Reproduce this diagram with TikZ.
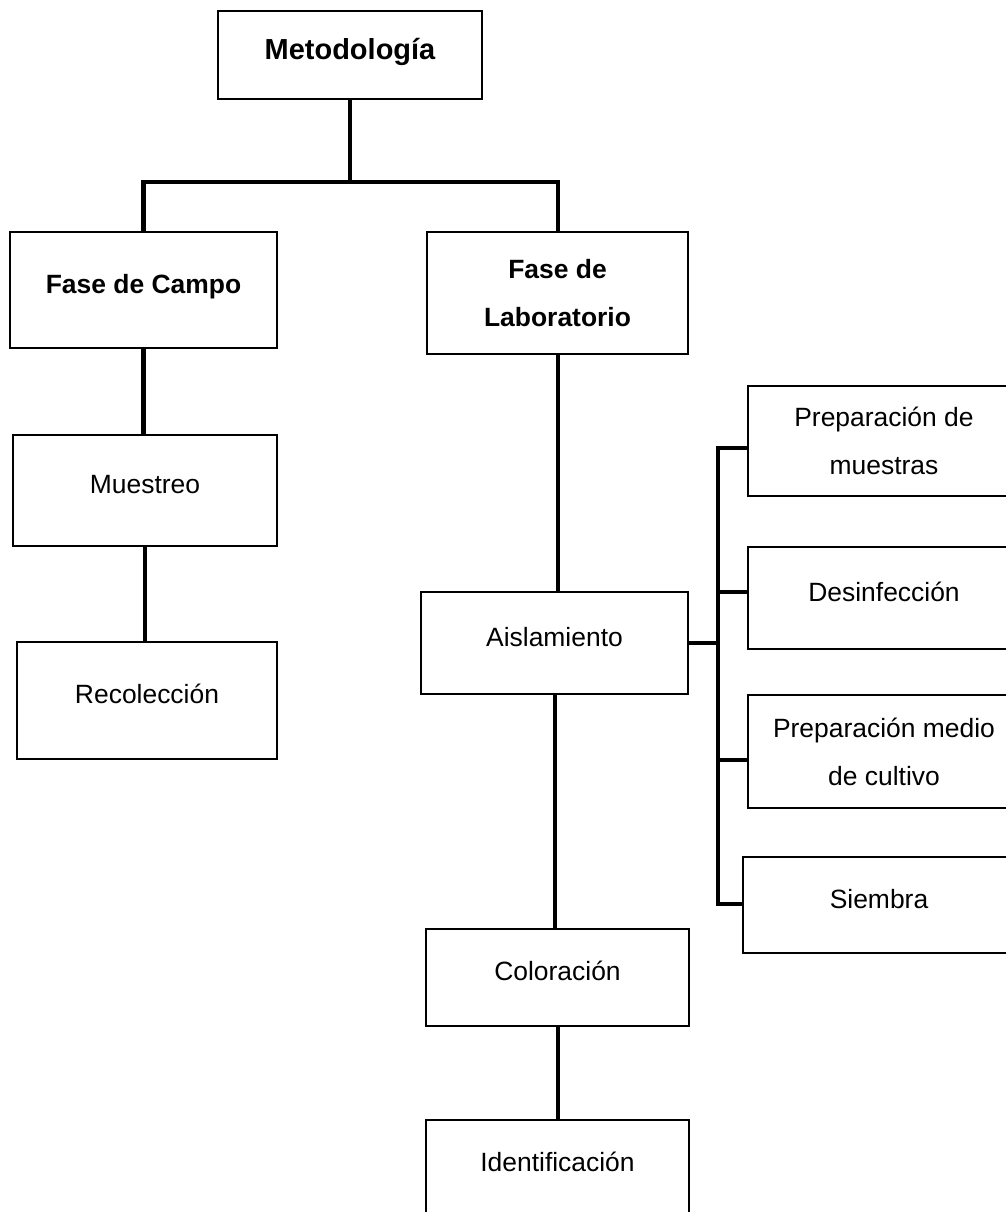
\documentclass[tikz,border=0pt]{standalone}
\usepackage{fontspec}
\setmainfont{Liberation Sans}
\usetikzlibrary{calc}

\begin{document}
\begin{tikzpicture}[x=0.025cm, y=-0.025cm,
    box/.style={draw, line width=1.4pt, inner sep=0pt, align=center, font=\fontsize{18.8pt}{34pt}\selectfont},
    title/.style={box, font=\fontsize{18.8pt}{34pt}\selectfont\bfseries},
    onel/.style={text height=0.5cm, text depth=0.33cm},
    conn/.style={line width=2.85pt, line cap=rect}]

    \useasboundingbox (0,0) rectangle (1006,1212);
    \fill[white] (0,0) rectangle (1006,1212);
    \clip (0,0) rectangle (1006,1212);

    \node[title, font=\fontsize{20.6pt}{34pt}\selectfont\bfseries, text height=0.56cm, text depth=0.33cm,
        minimum width=6.6cm, minimum height=2.2cm] (met) at (350,55) {Metodología};
    \node[title, onel, minimum width=6.675cm, minimum height=2.9cm] (campo) at (143.5,290) {Fase de Campo};
    \node[title, minimum width=6.525cm, minimum height=3.05cm] (lab) at (557.5,293) {Fase de\\Laboratorio};

    \node[box, onel, minimum width=6.6cm, minimum height=2.775cm] (muest) at (145,490.5) {Muestreo};
    \node[box, onel, minimum width=6.5cm, minimum height=2.925cm] (recol) at (147,700.5) {Recolección};

    \node[box, onel, minimum width=6.675cm, minimum height=2.55cm] (aisl) at (554.5,643) {Aislamiento};
    \node[box, onel, minimum width=6.575cm, minimum height=2.425cm] (color) at (557.5,977.5) {Coloración};
    \node[box, onel, minimum width=6.575cm, minimum height=2.425cm] (ident) at (557.5,1168.5) {Identificación};

    \node[box, minimum width=6.8cm, minimum height=2.75cm] (prepm) at (884,441) {Preparación de\\muestras};
    \node[box, onel, minimum width=6.8cm, minimum height=2.55cm] (desinf) at (884,598) {Desinfección};
    \node[box, minimum width=6.8cm, minimum height=2.825cm] (prepmc) at (884,751.5) {Preparación medio\\de cultivo};
    \node[box, onel, minimum width=6.8cm, minimum height=2.4cm] (siembra) at (879,905) {Siembra};

    \coordinate (split) at (350,182);
    \draw[conn] (met.south) -- (split);
    \draw[conn] (campo.north) |- (split) -| (lab.north);

    \draw[conn] (campo.south) -- (campo.south |- muest.north);
    \draw[conn] (muest.south) -- (muest.south |- recol.north);

    \draw[conn] (lab.south) -- (lab.south |- aisl.north);
    \draw[conn] (aisl.south) -- (aisl.south |- color.north);
    \draw[conn] (color.south) -- (ident.north);

    \coordinate (bustop) at (718,448);
    \coordinate (busbot) at (718,904);
    \draw[conn] (prepm.west |- bustop) -- (bustop) -- (busbot) -- (siembra.west |- busbot);
    \draw[conn] (aisl.east) -- (aisl.east -| bustop);
    \draw[conn] (bustop |- 0,592) -- (desinf.west |- 0,592);
    \draw[conn] (bustop |- 0,760) -- (prepmc.west |- 0,760);

\end{tikzpicture}
\end{document}
